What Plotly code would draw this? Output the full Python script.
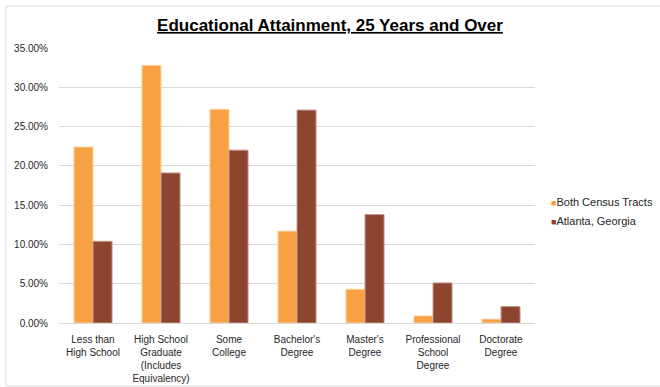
import plotly.graph_objects as go

categories = ["Less than<br>High School", "High School<br>Graduate<br>(Includes<br>Equivalency)",
              "Some<br>College", "Bachelor's<br>Degree", "Master's<br>Degree",
              "Professional<br>School<br>Degree", "Doctorate<br>Degree"]
both_tracts = [22.4, 32.8, 27.2, 11.7, 4.3, 0.9, 0.5]
atlanta = [10.4, 19.1, 22.0, 27.1, 13.8, 5.1, 2.1]
tick_vals = [0, 5, 10, 15, 20, 25, 30, 35]
tick_text = ["0.00%", "5.00%", "10.00%", "15.00%", "20.00%", "25.00%", "30.00%", "35.00%"]
series_names = ["Both Census Tracts", "Atlanta, Georgia"]
colors = ["#F7A142", "#8D4530"]

W, H = 660, 387
ml, mr, mt, mb = 59, 125, 48, 64
pw = W - ml - mr
ph = H - mt - mb

fig = go.Figure()
fig.add_trace(go.Bar(x=categories, y=both_tracts, name=series_names[0], showlegend=False,
                     marker=dict(color=colors[0], line=dict(color="#FBD3A6", width=1))))
fig.add_trace(go.Bar(x=categories, y=atlanta, name=series_names[1], showlegend=False,
                     marker=dict(color=colors[1], line=dict(color="#C49A8C", width=1))))

annotations = []
for i, (nm, c) in enumerate(zip(series_names, colors)):
    yy = 202 + i * 19
    annotations.append(dict(
        text=f"<span style='color:{c};font-size:9px'>■</span>{nm}",
        xref="paper", yref="paper", x=(549 - ml) / pw, y=(H - mb - yy) / ph,
        xanchor="left", yanchor="middle", showarrow=False,
        font=dict(size=11, color="#262626")))

fig.update_layout(
    width=W, height=H,
    margin=dict(l=ml, r=mr, t=mt, b=mb, autoexpand=False),
    paper_bgcolor="white", plot_bgcolor="white",
    font=dict(family="Liberation Sans, Arial", size=10, color="#262626"),
    barmode="group", bargap=0.44, bargroupgap=0,
    title=dict(text="<b><u>Educational Attainment, 25 Years and Over</u></b>",
               x=330 / W, xanchor="center", y=1 - 25 / H, yanchor="middle",
               font=dict(size=17, color="black")),
    showlegend=False,
    annotations=annotations,
    xaxis=dict(showgrid=False, showline=True, linecolor="#D9D9D9", linewidth=1,
               ticks="", ticklabelstandoff=7, automargin=False,
               tickfont=dict(size=10, color="#262626"), tickangle=0),
    yaxis=dict(range=[0, 35], tickvals=tick_vals, ticktext=tick_text,
               showgrid=True, gridcolor="#D9D9D9", gridwidth=1, zeroline=False,
               showline=False, ticks="", ticklabelstandoff=10, automargin=False,
               tickfont=dict(size=10, color="#262626")),
    shapes=[dict(type="rect", xref="paper", yref="paper",
                 x0=(6 - ml) / pw, x1=(664 - ml) / pw,
                 y0=-(386 - mt - ph) / ph, y1=1 + (mt - 6) / ph,
                 line=dict(color="#D9D9D9", width=1), fillcolor="rgba(0,0,0,0)", layer="below")],
)
fig.write_html("out.html")
